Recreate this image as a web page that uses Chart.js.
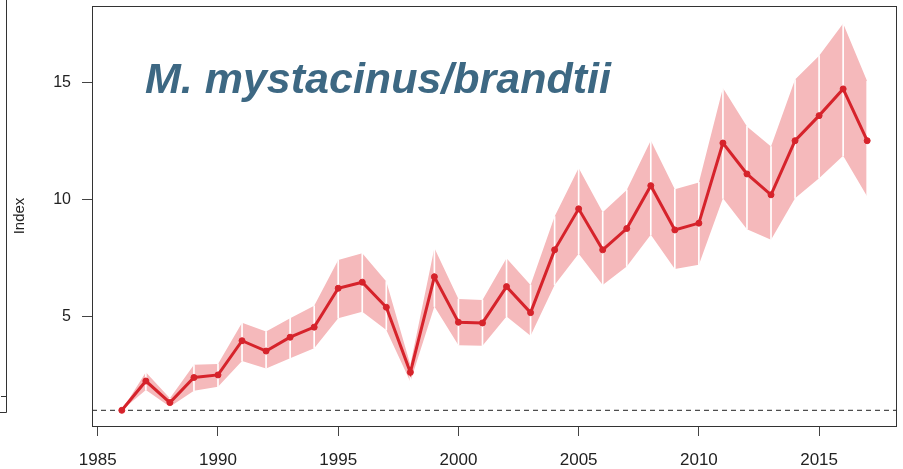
<!DOCTYPE html>
<html>
<head>
<meta charset="utf-8">
<script src="https://cdn.jsdelivr.net/npm/chart.js@4"></script>
<style>
  html, body { margin: 0; padding: 0; background: #fff; }
  #wrap { width: 903px; height: 469px; }
</style>
</head>
<body>
<div id="wrap"><canvas id="indexChart"></canvas></div>
<script>
const years = [1986, 1987, 1988, 1989, 1990, 1991, 1992, 1993, 1994, 1995, 1996,
  1997, 1998, 1999, 2000, 2001, 2002, 2003, 2004, 2005, 2006, 2007, 2008, 2009,
  2010, 2011, 2012, 2013, 2014, 2015, 2016, 2017];
const indexValues = [1.0, 2.25, 1.33, 2.4, 2.51, 3.97, 3.53, 4.12, 4.55, 6.21, 6.47,
  5.4, 2.62, 6.7, 4.76, 4.73, 6.28, 5.17, 7.85, 9.6, 7.85, 8.76, 10.59, 8.7,
  8.99, 12.41, 11.09, 10.2, 12.51, 13.58, 14.72, 12.51];
const upperCI = [1.0, 2.62, 1.51, 2.94, 2.98, 4.74, 4.36, 4.93, 5.46, 7.42, 7.71,
  6.5, 2.94, 7.93, 5.75, 5.71, 7.49, 6.35, 9.27, 11.34, 9.46, 10.41, 12.52, 10.44,
  10.73, 14.76, 13.12, 12.26, 15.12, 16.14, 17.51, 15.05];
const lowerCI = [1.0, 1.87, 1.15, 1.84, 2.01, 3.11, 2.79, 3.22, 3.65, 4.93, 5.21,
  4.43, 2.22, 5.43, 3.78, 3.76, 5.0, 4.18, 6.35, 7.68, 6.35, 7.14, 8.49, 7.03,
  7.21, 10.05, 8.73, 8.28, 10.05, 10.91, 11.87, 10.13];
const xTickLabels = [1985, 1990, 1995, 2000, 2005, 2010, 2015];
const yTickLabels = [5, 10, 15];
const refLevel = 1;
const speciesName = "M. mystacinus/brandtii";

const pts = (vals) => years.map((y, i) => ({ x: y, y: vals[i] }));

// box, reference line, species label and the edge of the neighbouring panel
const decor = {
  id: "decor",
  beforeDatasetsDraw(chart) {
    const { ctx, chartArea, scales } = chart;
    const y = scales.y.getPixelForValue(refLevel);
    ctx.save();
    ctx.strokeStyle = "#222";
    ctx.lineWidth = 1;
    ctx.setLineDash([5, 4]);
    ctx.beginPath();
    ctx.moveTo(chartArea.left, y);
    ctx.lineTo(chartArea.right, y);
    ctx.stroke();
    ctx.restore();
  },
  afterDraw(chart) {
    const { ctx, chartArea } = chart;
    ctx.save();
    ctx.strokeStyle = "#333";
    ctx.lineWidth = 1;
    ctx.strokeRect(chartArea.left + 0.5, chartArea.top + 0.5,
      chartArea.right - chartArea.left - 1, chartArea.bottom - chartArea.top);
    ctx.beginPath();
    ctx.moveTo(6.5, 0);
    ctx.lineTo(6.5, 412.5);
    ctx.lineTo(0, 412.5);
    ctx.moveTo(6.5, 396.5);
    ctx.lineTo(1, 396.5);
    ctx.stroke();
    ctx.fillStyle = "#3d6883";
    ctx.font = "italic bold 43px 'Liberation Sans', Arial, sans-serif";
    ctx.textBaseline = "alphabetic";
    ctx.fillText(speciesName, chartArea.left + 53, 93);
    ctx.restore();
  },
};

new Chart(document.getElementById("indexChart"), {
  type: "line",
  data: {
    datasets: [
      {
        label: "Index",
        data: pts(indexValues),
        borderColor: "#d6232b",
        backgroundColor: "#d6232b",
        borderWidth: 3,
        pointRadius: 3,
        pointBorderWidth: 1,
        pointHoverRadius: 3,
        tension: 0,
        order: 0,
      },
      {
        type: "bar",
        label: "year dividers",
        data: years.map((y, i) => ({ x: y, y: [lowerCI[i], upperCI[i]] })),
        backgroundColor: "#ffffff",
        barThickness: 1,
        borderWidth: 0,
        order: 1,
      },
      {
        label: "Upper",
        data: pts(upperCI),
        borderWidth: 0,
        borderColor: "rgba(0,0,0,0)",
        backgroundColor: "#f5b9bb",
        pointRadius: 0,
        fill: "+1",
        tension: 0,
        order: 2,
      },
      {
        label: "Lower",
        data: pts(lowerCI),
        borderWidth: 0,
        borderColor: "rgba(0,0,0,0)",
        pointRadius: 0,
        fill: false,
        tension: 0,
        order: 3,
      },
    ],
  },
  options: {
    responsive: true,
    maintainAspectRatio: false,
    animation: false,
    layout: { padding: { top: 6, right: 6, left: 0, bottom: 0 } },
    plugins: {
      legend: { display: false },
      tooltip: { enabled: false },
    },
    scales: {
      x: {
        type: "linear",
        min: 1984.76,
        max: 2018.24,
        offset: false,
        grid: { display: true, offset: false, drawOnChartArea: false, drawTicks: true, tickLength: 10, color: "#444" },
        border: { display: false },
        ticks: {
          color: "#222",
          padding: 14,
          maxRotation: 0,
          font: { family: "'Liberation Sans', Arial, sans-serif", size: 17 },
          callback: (v) => String(v),
        },
        afterBuildTicks: (s) => { s.ticks = xTickLabels.map((v) => ({ value: v })); },
        afterFit: (s) => { s.height = 43; s.paddingLeft = 0; s.paddingRight = 0; },
      },
      y: {
        min: 0.33,
        max: 18.26,
        grid: { display: true, drawOnChartArea: false, drawTicks: true, tickLength: 10, color: "#444" },
        border: { display: false },
        title: {
          display: true,
          text: "Index",
          color: "#222",
          padding: { top: 11, bottom: 0 },
          font: { family: "'Liberation Sans', Arial, sans-serif", size: 15 },
        },
        ticks: {
          color: "#222",
          padding: 11,
          font: { family: "'Liberation Sans', Arial, sans-serif", size: 16 },
          callback: (v) => String(v),
        },
        afterBuildTicks: (s) => { s.ticks = yTickLabels.map((v) => ({ value: v })); },
        afterFit: (s) => { s.width = 92; s.paddingTop = 0; s.paddingBottom = 0; },
      },
    },
  },
  plugins: [decor],
});
</script>
</body>
</html>
